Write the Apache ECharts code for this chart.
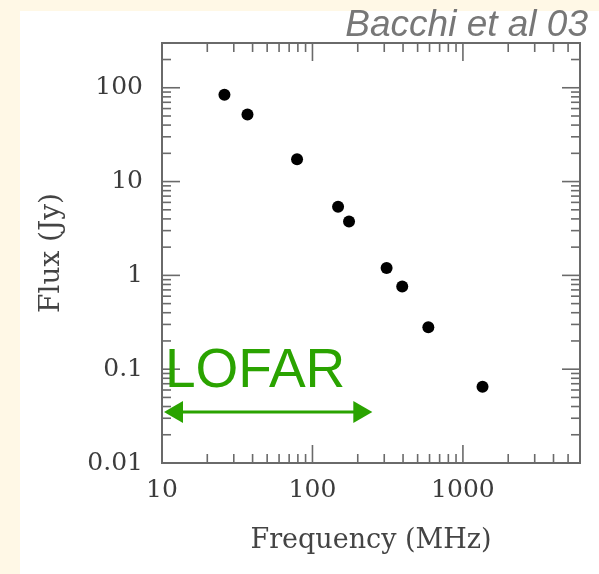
<!DOCTYPE html>
<html>
<head>
<meta charset="utf-8">
<script src="https://cdn.jsdelivr.net/npm/echarts@6/dist/echarts.min.js"></script>
<style>
html,body{margin:0;padding:0;background:#fff8e6;}
#chart{width:599px;height:574px;}
</style>
</head>
<body>
<div id="chart"></div>
<script>
// ---- data ----
const freqMHz = [26, 37, 79, 148, 175, 311, 395, 589, 1350];
const fluxJy  = [84, 52, 17.3, 5.4, 3.75, 1.2, 0.76, 0.28, 0.065];
const xTickValues = [10, 100, 1000];
const xTickLabels = ['10', '100', '1000'];
const yTickValues = [0.01, 0.1, 1, 10, 100];
const yTickLabels = ['0.01', '0.1', '1', '10', '100'];
const lofarRange = [10, 250];
const lofarLevel = 0.035;
const xRange = [10, 6000];
const yRange = [0.01, 300];

// tick marks (major at decades, minor at 2..9 x decade)
const tickData = [];
for (let d = 10; d < xRange[1]; d *= 10) {
  for (let m = 1; m <= 9; m++) {
    const v = d * m;
    if (v > xRange[1]) break;
    tickData.push([v, yRange[0], m === 1 ? 1 : 0]);
  }
}
for (let d = 0.01; d < yRange[1]; d *= 10) {
  for (let m = 1; m <= 9; m++) {
    const v = +(d * m).toPrecision(6);
    if (v > yRange[1]) break;
    tickData.push([xRange[0], v, m === 1 ? 3 : 2]);
  }
}

function labelFor(values, labels) {
  return function (v) {
    for (let i = 0; i < values.length; i++) {
      if (Math.abs(Math.log10(v) - Math.log10(values[i])) < 1e-6) return labels[i];
    }
    return '';
  };
}

const tickColor = '#6a6a6a';
const green = '#2aa300';

const chart = echarts.init(document.getElementById('chart'), null, {renderer: 'canvas'});
chart.setOption({
  backgroundColor: '#fff8e6',
  animation: false,
  graphic: [
    {type: 'rect', shape: {x: 20, y: 11, width: 600, height: 600}, style: {fill: '#ffffff'}, z: -10, silent: true},
    {type: 'text', right: 11, top: 7,
     style: {text: 'Bacchi et al 03', font: 'italic 37px "Liberation Sans", Arial, sans-serif', fill: '#777777'}}
  ],
  grid: {left: 162, right: 19, top: 43, bottom: 111, show: true, borderColor: tickColor, borderWidth: 2, backgroundColor: 'transparent'},
  xAxis: {
    type: 'log', logBase: 10, min: xRange[0], max: xRange[1],
    name: 'Frequency (MHz)', nameLocation: 'middle', nameGap: 64,
    nameTextStyle: {fontFamily: 'DejaVu Serif', fontSize: 27, color: '#444'},
    axisLine: {show: false}, axisTick: {show: false}, splitLine: {show: false},
    axisLabel: {formatter: labelFor(xTickValues, xTickLabels), fontFamily: 'DejaVu Serif', fontSize: 25, color: '#3c3c3c', margin: 15, showMaxLabel: false}
  },
  yAxis: {
    type: 'log', logBase: 10, min: yRange[0], max: yRange[1],
    name: 'Flux (Jy)', nameLocation: 'middle', nameGap: 96, nameRotate: 90,
    nameTextStyle: {fontFamily: 'DejaVu Serif', fontSize: 28, color: '#444'},
    axisLine: {show: false}, axisTick: {show: false}, splitLine: {show: false},
    axisLabel: {formatter: labelFor(yTickValues, yTickLabels), fontFamily: 'DejaVu Serif', fontSize: 25, color: '#3c3c3c', margin: 19, showMaxLabel: false}
  },
  series: [
    {
      type: 'custom', silent: true, clip: false, z: 1,
      data: tickData,
      renderItem: function (params, api) {
        const kind = api.value(2);
        const v0 = api.value(0), v1 = api.value(1);
        const style = {stroke: tickColor, lineWidth: 1.6};
        if (kind <= 1) {
          const len = kind === 1 ? 18 : 9;
          const b = api.coord([v0, yRange[0]]);
          const t = api.coord([v0, yRange[1]]);
          return {type: 'group', children: [
            {type: 'line', shape: {x1: b[0], y1: b[1], x2: b[0], y2: b[1] - len}, style: style},
            {type: 'line', shape: {x1: t[0], y1: t[1], x2: t[0], y2: t[1] + len}, style: style}
          ]};
        } else {
          const len = kind === 3 ? 18 : 9;
          const l = api.coord([xRange[0], v1]);
          const r = api.coord([xRange[1], v1]);
          return {type: 'group', children: [
            {type: 'line', shape: {x1: l[0], y1: l[1], x2: l[0] + len, y2: l[1]}, style: style},
            {type: 'line', shape: {x1: r[0], y1: r[1], x2: r[0] - len, y2: r[1]}, style: style}
          ]};
        }
      }
    },
    {
      type: 'scatter', data: freqMHz.map((f, i) => [f, fluxJy[i]]),
      symbol: 'circle', symbolSize: 12, itemStyle: {color: '#000', opacity: 1}, z: 3
    },
    {
      type: 'custom', silent: true, clip: false, z: 4,
      encode: {x: [0, 2], y: 1},
      data: [[lofarRange[0], lofarLevel, lofarRange[1]]],
      renderItem: function (params, api) {
        const p1 = api.coord([api.value(0), api.value(1)]);
        const p2 = api.coord([api.value(2), api.value(1)]);
        const hl = 19, hw = 11;
        return {type: 'group', children: [
          {type: 'line', shape: {x1: p1[0] + hl - 2, y1: p1[1], x2: p2[0] - hl + 2, y2: p2[1]}, style: {stroke: green, lineWidth: 3}},
          {type: 'polygon', shape: {points: [[p1[0] + 2, p1[1]], [p1[0] + 2 + hl, p1[1] - hw], [p1[0] + 2 + hl, p1[1] + hw]]}, style: {fill: green}},
          {type: 'polygon', shape: {points: [[p2[0], p2[1]], [p2[0] - hl, p2[1] - hw], [p2[0] - hl, p2[1] + hw]]}, style: {fill: green}},
          {type: 'text', x: p1[0] + 3, y: p1[1] - 40, style: {text: 'LOFAR', font: '55px "Liberation Sans", Arial, sans-serif', fill: green, verticalAlign: 'middle', align: 'left'}}
        ]};
      }
    }
  ]
});
</script>
</body>
</html>
